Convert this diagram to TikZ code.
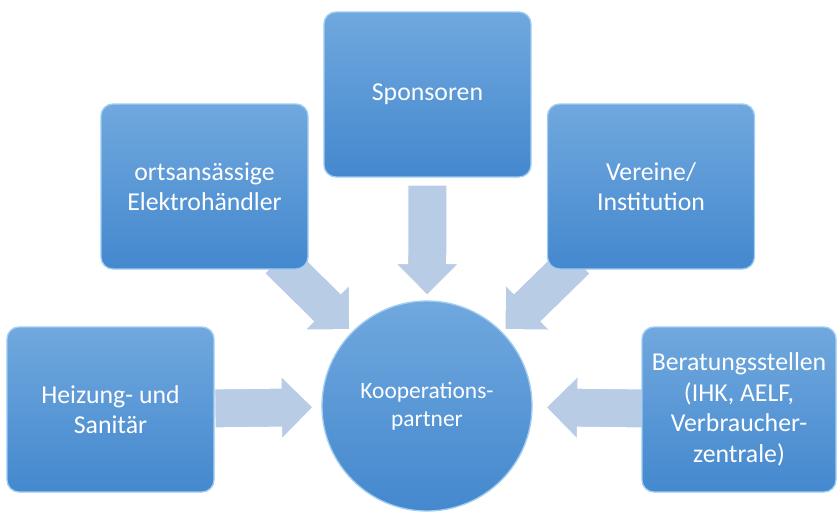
\documentclass[tikz,border=0pt]{standalone}
\usepackage{fontspec}
\setmainfont{Carlito}
\usetikzlibrary{shapes,positioning,calc,backgrounds}
\definecolor{boxtop}{RGB}{112,168,222}
\definecolor{boxbot}{RGB}{68,136,206}
\definecolor{boxrand}{RGB}{160,205,242}
\definecolor{pfeilfarbe}{RGB}{184,204,229}

\begin{document}
\begin{tikzpicture}[x=0.3mm,y=-0.3mm,
  feld/.style={rectangle,rounded corners=3.6mm,minimum width=62.1mm,minimum height=49.5mm,
    top color=boxtop,bottom color=boxbot,draw=boxrand,line width=0.4mm,
    text=white,align=center,font=\fontsize{22}{26}\selectfont},
  mitte/.style={circle,minimum size=63mm,top color=boxtop,bottom color=boxbot,
    draw=boxrand,line width=0.4mm,text=white,align=center,font=\fontsize{20}{24}\selectfont},
  pfeil/.style={single arrow,single arrow head extend=3.6mm,inner xsep=0pt,inner ysep=5.7mm,
    fill=pfeilfarbe,draw=white,line width=0.3mm,sloped,allow upside down}]
\useasboundingbox (0,0) rectangle (838,511);

% Mitte
\node[mitte] (kp) at (427,406) {Kooperations-\\partner};

% Partner ringsum
\node[feld] (spons) at (427.5,94.5) {Sponsoren};
\node[feld] (elek) at (204.5,186.5) {ortsansässige\\Elektrohändler};
\node[feld] (ver) at (651,186.5) {Vereine/\\Institution};
\node[feld] (heiz) at (110.5,409.5) {Heizung- und\\Sanitär};
\node[feld,minimum width=58.2mm] (ber) at (739,409.5) {Beratungsstellen\\(IHK, AELF,\\Verbraucher-\\zentrale)};

% Pfeile zur Mitte
\begin{scope}[on background layer]
\foreach \von/\p/\len in {spons/0.43/110,elek/0.29/100,ver/0.29/100,heiz/0.37/98,ber/0.335/98} {
  \path (\von) -- node[pfeil,pos=\p,minimum height=\len*0.3mm] (p-\von) {} (kp);
}
\end{scope}
\end{tikzpicture}
\end{document}
